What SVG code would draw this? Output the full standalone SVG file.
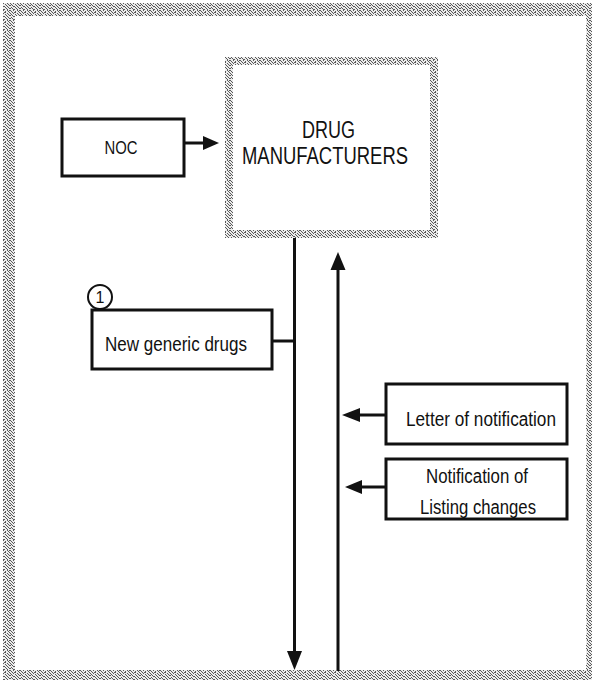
<svg xmlns="http://www.w3.org/2000/svg" width="592" height="680" viewBox="0 0 592 680">
  <style>
    .box { fill: #ffffff; stroke: #111111; stroke-width: 3; }
    .lbl { font-family: "Liberation Sans", "DejaVu Sans", sans-serif; fill: #111111; text-anchor: middle; }
    .wire { fill: none; stroke: #111111; stroke-width: 3; }
    .head { fill: #111111; }
  </style>
  <defs>
    <!-- irregular halftone grey used for the frame and the manufacturer box border -->
    <pattern id="stipple" width="10" height="10" patternUnits="userSpaceOnUse">
      <rect width="10" height="10" fill="#ececec"/>
      <path fill="#5a5a5a" d="M0 0h1v1h-1z M3 0h1v1h-1z M7 0h1v1h-1z M9 0h1v1h-1z
        M1 1h1v1h-1z M5 1h1v1h-1z M8 1h1v1h-1z
        M2 2h1v1h-1z M4 2h2v1h-2z M9 2h1v1h-1z
        M0 3h1v1h-1z M3 3h1v1h-1z M7 3h1v1h-1z
        M1 4h1v1h-1z M5 4h1v1h-1z M8 4h1v1h-1z
        M0 5h1v1h-1z M2 5h1v1h-1z M6 5h1v1h-1z M9 5h1v1h-1z
        M3 6h2v1h-2z M7 6h1v1h-1z
        M1 7h1v1h-1z M5 7h1v1h-1z M8 7h1v1h-1z
        M0 8h1v1h-1z M2 8h1v1h-1z M6 8h1v1h-1z M9 8h1v1h-1z
        M3 9h1v1h-1z M4 9h1v1h-1z M7 9h1v1h-1z"/>
    </pattern>
  </defs>

  <rect width="592" height="680" fill="#ffffff"/>

  <!-- outer frame -->
  <g id="frame" fill="url(#stipple)">
    <rect x="3" y="3" width="589" height="13"/>
    <rect x="3" y="3" width="12" height="677"/>
    <rect x="586" y="3" width="6" height="677"/>
    <rect x="3" y="670" width="589" height="10"/>
  </g>

  <!-- connectors -->
  <g id="connectors">
    <!-- NOC to manufacturers -->
    <line class="wire" x1="184" y1="143" x2="206" y2="143"/>
    <polygon class="head" points="203,136 219,143 203,150"/>
    <!-- down flow out of manufacturers -->
    <line class="wire" x1="294.5" y1="238" x2="294.5" y2="654"/>
    <polygon class="head" points="287,651 302,651 294.5,670"/>
    <!-- new generic drugs joins the down flow -->
    <line class="wire" x1="272" y1="341" x2="294.5" y2="341"/>
    <!-- up flow into manufacturers -->
    <line class="wire" x1="338" y1="671" x2="338" y2="266"/>
    <polygon class="head" points="330.5,270 345.5,270 338,252"/>
    <!-- notices into the up flow -->
    <line class="wire" x1="386" y1="415" x2="356" y2="415"/>
    <polygon class="head" points="360,408 342,415 360,422"/>
    <line class="wire" x1="386" y1="487" x2="358" y2="487"/>
    <polygon class="head" points="362,480 345,487 362,494"/>
  </g>

  <g id="noc">
    <rect class="box" x="62" y="119" width="122" height="57"/>
    <text class="lbl" x="121" y="154" font-size="19" textLength="33" lengthAdjust="spacingAndGlyphs">NOC</text>
  </g>

  <g id="drug-manufacturers">
    <rect x="229" y="61" width="205" height="173" fill="#ffffff" stroke="url(#stipple)" stroke-width="8"/>
    <text class="lbl" x="328.5" y="138" font-size="23" textLength="53" lengthAdjust="spacingAndGlyphs">DRUG</text>
    <text class="lbl" x="325" y="164" font-size="23" textLength="166" lengthAdjust="spacingAndGlyphs">MANUFACTURERS</text>
  </g>

  <g id="new-generic-drugs">
    <rect class="box" x="92" y="310" width="180" height="59"/>
    <circle cx="100" cy="297" r="12" fill="#ffffff" stroke="#111111" stroke-width="2"/>
    <text class="lbl" x="100" y="303" font-size="16">1</text>
    <text class="lbl" x="176" y="351" font-size="20" textLength="142" lengthAdjust="spacingAndGlyphs">New generic drugs</text>
  </g>

  <g id="letter-of-notification">
    <rect class="box" x="386" y="384" width="181" height="60"/>
    <text class="lbl" x="481" y="426" font-size="20" textLength="150" lengthAdjust="spacingAndGlyphs">Letter of notification</text>
  </g>

  <g id="notification-listing-changes">
    <rect class="box" x="386" y="459" width="181" height="60"/>
    <text class="lbl" x="477" y="483" font-size="20" textLength="102" lengthAdjust="spacingAndGlyphs">Notification of</text>
    <text class="lbl" x="478" y="514" font-size="20" textLength="116" lengthAdjust="spacingAndGlyphs">Listing changes</text>
  </g>
</svg>
